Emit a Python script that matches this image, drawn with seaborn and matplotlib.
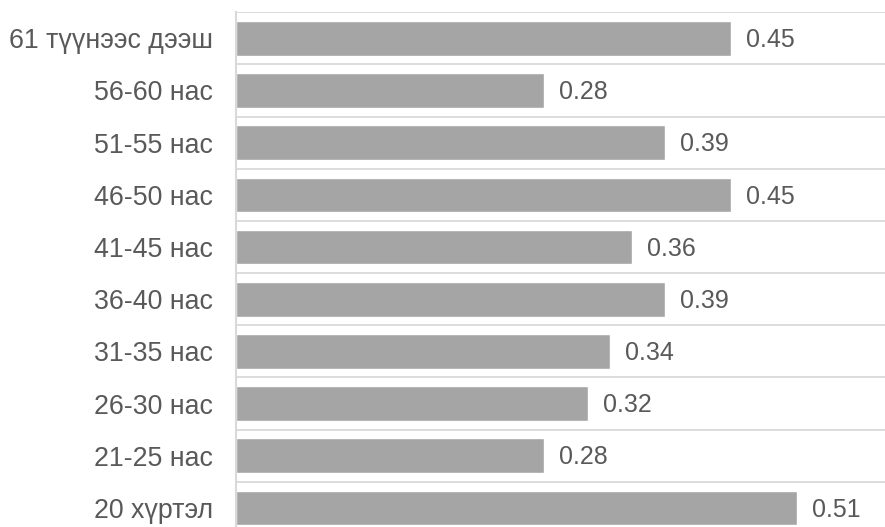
import matplotlib
matplotlib.use("Agg")
import matplotlib.pyplot as plt
import seaborn as sns
import pandas as pd
from matplotlib.ticker import FixedLocator

# Age groups, listed top to bottom
age_groups = [
    "61 түүнээс дээш",
    "56-60 нас",
    "51-55 нас",
    "46-50 нас",
    "41-45 нас",
    "36-40 нас",
    "31-35 нас",
    "26-30 нас",
    "21-25 нас",
    "20 хүртэл",
]
values = [0.45, 0.28, 0.39, 0.45, 0.36, 0.39, 0.34, 0.32, 0.28, 0.51]

df = pd.DataFrame({"group": age_groups, "value": values})

sns.set_theme(style="white")
plt.rcParams["font.family"] = ["Liberation Sans", "DejaVu Sans"]

text_color = "#595959"
bar_color = "#a5a5a5"
grid_color = "#d9d9d9"

fig = plt.figure(figsize=(8.85, 5.27), dpi=100)
ax = fig.add_axes([236 / 885, -0.0133, 1 - 236 / 885, 0.9768 + 0.0133])

sns.barplot(data=df, x="value", y="group", order=age_groups, color=bar_color,
            width=0.665, saturation=1, ax=ax)

# Value labels just right of each bar end
for i, v in enumerate(values):
    ax.annotate(f"{v:.2f}", xy=(v, i), xytext=(10.5, -1.2),
                textcoords="offset points", ha="left", va="center",
                fontsize=18, color=text_color)

ax.set_xlim(0, 0.59)
ax.set_ylim(len(age_groups) - 0.5, -0.5)

# Separator lines between categories
ax.yaxis.set_minor_locator(FixedLocator([i - 0.5 for i in range(len(age_groups) + 1)]))
ax.grid(which="minor", axis="y", color=grid_color, linewidth=1.3)
ax.grid(which="major", visible=False)
ax.set_axisbelow(True)

ax.set_xlabel("")
ax.set_ylabel("")
ax.set_xticks([])
ax.tick_params(axis="y", which="both", length=0, pad=16.5, labelsize=19.3,
               labelcolor=text_color)

for side in ["top", "right", "bottom"]:
    ax.spines[side].set_visible(False)
ax.spines["left"].set_color(grid_color)
ax.spines["left"].set_linewidth(1.5)

fig.savefig("out.png", dpi=100)
